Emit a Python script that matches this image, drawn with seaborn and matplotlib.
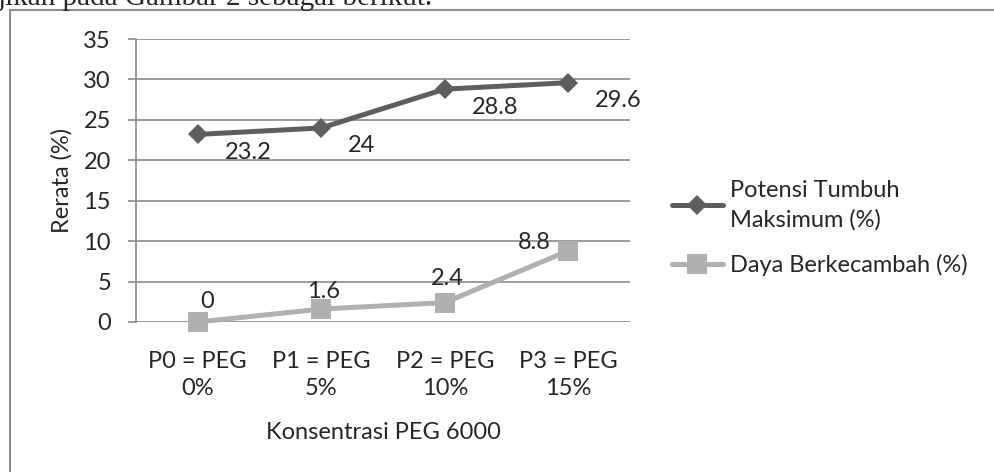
import numpy as np
import pandas as pd
import seaborn as sns
import matplotlib.pyplot as plt
from matplotlib.patches import Rectangle

categories = ["P0 = PEG\n0%", "P1 = PEG\n5%", "P2 = PEG\n10%", "P3 = PEG\n15%"]
potensi_tumbuh = [23.2, 24.0, 28.8, 29.6]
daya_berkecambah = [0.0, 1.6, 2.4, 8.8]
series_names = ["Potensi Tumbuh\nMaksimum (%)", "Daya Berkecambah (%)"]
y_ticks = [0, 5, 10, 15, 20, 25, 30, 35]

# label offsets (points) for the light series
light_offsets = [(6.5, 14.5), (2, 13), (2, 17), (-24.5, 6)]

df = pd.DataFrame({
    "kategori": categories * 2,
    "pos": list(range(len(categories))) * 2,
    "nilai": potensi_tumbuh + daya_berkecambah,
    "seri": [series_names[0]] * 4 + [series_names[1]] * 4,
})

sns.set_style("white")
plt.rcParams["font.family"] = ["Lato", "DejaVu Sans"]

dark = "#5e5e5e"
light = "#b0b0b0"
grid_c = "#8a8a8a"
fs = 17

fig = plt.figure(figsize=(9.95, 4.72), dpi=100)
ax = fig.add_axes([136 / 995, 1 - 322 / 472, (630 - 136) / 995, (322 - 39) / 472])

sns.lineplot(data=df, x="pos", y="nilai", hue="seri", style="seri",
             palette={series_names[0]: dark, series_names[1]: light},
             markers={series_names[0]: "D", series_names[1]: "s"},
             dashes=False, linewidth=3.6, markersize=10, markeredgewidth=0,
             clip_on=False, zorder=3, ax=ax, legend=True)

# square marker a bit larger than the diamond
for line in ax.lines:
    if line.get_marker() == "s":
        line.set_markersize(14.5)
    elif line.get_marker() == "D":
        line.set_markersize(10.5)

ax.set_xlim(-0.5, len(categories) - 0.5)
ax.set_ylim(0, 35)
ax.set_xticks(range(len(categories)))
ax.set_xticklabels(categories, fontsize=fs, linespacing=1.35)
ax.set_yticks(y_ticks)
ax.set_yticklabels([str(t) for t in y_ticks], fontsize=fs)
ax.tick_params(axis="x", length=0, pad=21)
ax.tick_params(axis="y", length=6, width=1.2, color=grid_c, pad=12, left=True)
ax.grid(axis="y", color=grid_c, linewidth=1.2)
ax.set_axisbelow(True)
for s in ["top", "right", "bottom"]:
    ax.spines[s].set_visible(False)
ax.spines["left"].set_color(grid_c)
ax.spines["left"].set_linewidth(1.2)

ax.set_xlabel("Konsentrasi PEG 6000", fontsize=fs, va="top")
ax.xaxis.set_label_coords(0.5, (322 - 422) / 283)
ax.set_ylabel("Rerata (%)", fontsize=fs)
ax.yaxis.set_label_coords((73 - 136) / 494, 0.5)

for i, v in enumerate(potensi_tumbuh):
    ax.annotate(f"{v:g}", (i, v), xytext=(19.5, -13), textcoords="offset points",
                ha="left", va="center", fontsize=fs)
for i, v in enumerate(daya_berkecambah):
    ax.annotate(f"{v:g}", (i, v), xytext=light_offsets[i], textcoords="offset points",
                ha="center", va="center", fontsize=fs)

handles, labels = ax.get_legend_handles_labels()
ax.get_legend().remove()
leg = fig.legend(handles, labels, loc="center left",
                 bbox_to_anchor=(672 / 995, 1 - 228 / 472),
                 frameon=False, fontsize=fs, handlelength=2.15, handletextpad=0.3,
                 labelspacing=1.0, borderpad=0, borderaxespad=0)
for t in leg.get_texts():
    t.set_linespacing(1.5)

# outer frame and the cut text line above it
fig.patches.append(Rectangle((10 / 995, -0.1), 1.2, (472 - 10) / 472 + 0.1,
                             transform=fig.transFigure, fill=False,
                             edgecolor="#8c8c8c", linewidth=1.5))
fig.text(-0.002, 1 - 5 / 472, "jikan pada Gambar 2 sebagai berikut.",
         family="Liberation Serif", fontsize=21, ha="left", va="baseline")

fig.savefig("out.png", dpi=100)
